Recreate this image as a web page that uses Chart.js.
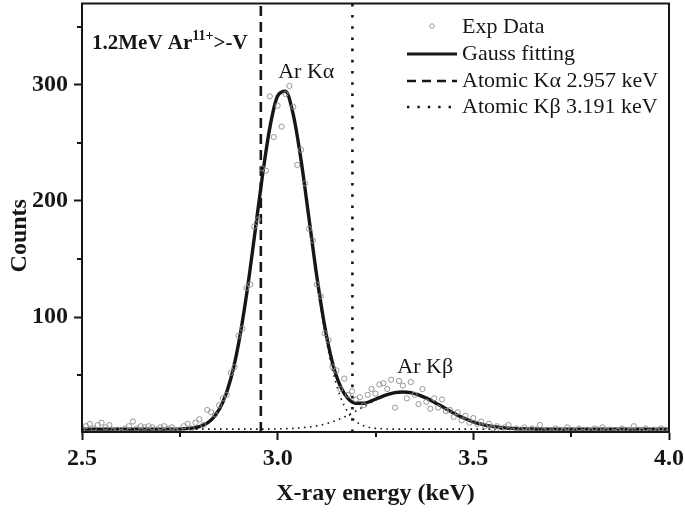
<!DOCTYPE html>
<html><head><meta charset="utf-8">
<script src="https://cdn.jsdelivr.net/npm/chart.js@4/dist/chart.umd.min.js"></script>
<style>html,body{margin:0;padding:0;background:#fff}canvas{display:block}</style>
</head><body>
<canvas id="c" width="685" height="514" style="width:685px;height:514px"></canvas>
<script>
// ---- data ----
const expEnergy = [
 2.50,2.51,2.52,2.53,2.54,2.55,2.56,2.57,2.58,2.59,
 2.60,2.61,2.62,2.63,2.64,2.65,2.66,2.67,2.68,2.69,
 2.70,2.71,2.72,2.73,2.74,2.75,2.76,2.77,2.78,2.79,
 2.80,2.81,2.82,2.83,2.84,2.85,2.86,2.87,2.88,2.89,
 2.90,2.91,2.92,2.93,2.94,2.95,2.96,2.97,2.98,2.99,
 3.00,3.01,3.02,3.03,3.04,3.05,3.06,3.07,3.08,3.09,
 3.10,3.11,3.12,3.13,3.14,3.15,3.16,3.17,3.18,3.19,
 3.20,3.21,3.22,3.23,3.24,3.25,3.26,3.27,3.28,3.29,
 3.30,3.31,3.32,3.33,3.34,3.35,3.36,3.37,3.38,3.39,
 3.40,3.41,3.42,3.43,3.44,3.45,3.46,3.47,3.48,3.49,
 3.50,3.51,3.52,3.53,3.54,3.55,3.56,3.57,3.58,3.59,
 3.60,3.61,3.62,3.63,3.64,3.65,3.66,3.67,3.68,3.69,
 3.70,3.71,3.72,3.73,3.74,3.75,3.76,3.77,3.78,3.79,
 3.80,3.81,3.82,3.83,3.84,3.85,3.86,3.87,3.88,3.89,
 3.90,3.91,3.92,3.93,3.94,3.95,3.96,3.97,3.98,3.99,
 4.00];
const expCounts = [
 3,6,8,4,7,9,5,7,2,3,
 1,4,6,10,4,6,5,6,5,3,
 5,6,4,5,2,3,6,8,4,9,
 12,7,20,18,16,24,30,33,52,57,
 84,90,125,128,178,184,228,226,290,255,
 282,264,292,299,281,231,244,215,176,166,
 128,118,86,80,57,54,38,47,33,36,
 29,31,24,33,38,34,42,43,38,46,
 22,45,41,30,44,33,25,38,27,21,
 30,22,29,19,20,14,18,11,15,9,
 13,8,10,6,8,4,6,3,5,7,
 2,4,3,5,2,4,3,7,2,3,
 1,4,3,2,5,3,2,4,1,3,
 2,4,3,5,2,3,1,2,4,3,
 2,6,3,2,4,1,3,2,4,3,
 2];
const fitEnergy = [
 2.50,2.52,2.54,2.56,2.58,2.60,2.62,2.64,2.66,2.68,
 2.70,2.72,2.74,2.76,2.78,2.80,2.82,2.84,2.86,2.88,
 2.90,2.92,2.94,2.96,2.98,3.00,3.02,3.04,3.06,3.08,
 3.10,3.12,3.14,3.16,3.18,3.20,3.22,3.24,3.26,3.28,
 3.30,3.32,3.34,3.36,3.38,3.40,3.42,3.44,3.46,3.48,
 3.50,3.52,3.54,3.56,3.58,3.60,3.62,3.64,3.66,3.68,
 3.70,3.72,3.74,3.76,3.78,3.80,3.82,3.84,3.86,3.88,
 3.90,3.92,3.94,3.96,3.98,4.00];
const fitTotal = [
 3.5,3.5,3.5,3.5,3.5,3.5,3.5,3.5,3.5,3.5,
 3.5,3.5,3.5,3.8,4.3,5.7,8.7,15.0,26.7,46.6,
 76.9,118.1,167.6,219.0,263.1,290.4,294.4,274.0,234.6,185.0,
 135.1,92.5,60.8,40.6,29.8,25.8,25.7,27.8,30.6,33.1,
 34.9,35.5,34.9,33.0,30.2,26.7,22.9,19.1,15.5,12.4,
 9.8,7.8,6.3,5.3,4.6,4.1,3.8,3.7,3.6,3.5,
 3.5,3.5,3.5,3.5,3.5,3.5,3.5,3.5,3.5,3.5,
 3.5,3.5,3.5,3.5,3.5,3.5];
const fitKalpha = [
 3.5,3.5,3.5,3.5,3.5,3.5,3.5,3.5,3.5,3.5,
 3.5,3.5,3.5,3.8,4.3,5.7,8.7,15.0,26.7,46.6,
 76.9,118.1,167.6,219.0,263.1,290.2,294.0,273.4,233.5,183.2,
 132.3,88.2,54.5,31.7,17.8,10.2,6.3,4.6,3.9,3.6,
 3.5,3.5,3.5,3.5,3.5,3.5,3.5,3.5,3.5,3.5,
 3.5,3.5,3.5,3.5,3.5,3.5,3.5,3.5,3.5,3.5,
 3.5,3.5,3.5,3.5,3.5,3.5,3.5,3.5,3.5,3.5,
 3.5,3.5,3.5,3.5,3.5,3.5];
const fitKbeta = [
 3.5,3.5,3.5,3.5,3.5,3.5,3.5,3.5,3.5,3.5,
 3.5,3.5,3.5,3.5,3.5,3.5,3.5,3.5,3.5,3.5,
 3.5,3.5,3.5,3.5,3.5,3.7,3.9,4.1,4.6,5.3,
 6.3,7.8,9.8,12.4,15.5,19.1,22.9,26.7,30.2,33.0,
 34.9,35.5,34.9,33.0,30.2,26.7,22.9,19.1,15.5,12.4,
 9.8,7.8,6.3,5.3,4.6,4.1,3.8,3.7,3.6,3.5,
 3.5,3.5,3.5,3.5,3.5,3.5,3.5,3.5,3.5,3.5,
 3.5,3.5,3.5,3.5,3.5,3.5];
const atomicKalpha = 2.957;
const atomicKbeta = 3.191;
const xRange = [2.5, 4.0];
const yRange = [1, 370];
const xTicks = [2.5, 3.0, 3.5, 4.0];
const xMinorTicks = [2.75, 3.25, 3.75];
const yTicks = [100, 200, 300];
const yMinorTicks = [50, 150, 250, 350];
const legendLabels = ['Exp Data', 'Gauss fitting', 'Atomic K\u03B1 2.957 keV', 'Atomic K\u03B2 3.191 keV'];
const peakLabels = ['Ar K\u03B1', 'Ar K\u03B2'];

// ---- chart ----
const INK = '#161616';
const SERIF = '"Liberation Serif", "Times New Roman", serif';
const pts = (xs, ys) => xs.map((x, i) => ({x: x, y: ys[i]}));

const frameAndMinor = {
  id: 'frameAndMinor',
  afterDraw(chart) {
    const {ctx, chartArea: a, scales: {x, y}} = chart;
    ctx.save();
    ctx.strokeStyle = INK;
    ctx.lineWidth = 2;
    ctx.setLineDash([]);
    ctx.strokeRect(a.left, a.top, a.right - a.left, a.bottom - a.top);
    xMinorTicks.forEach(v => {
      const px = Math.round(x.getPixelForValue(v));
      ctx.beginPath(); ctx.moveTo(px, a.bottom); ctx.lineTo(px, a.bottom + 5); ctx.stroke();
    });
    yMinorTicks.forEach(v => {
      const py = Math.round(y.getPixelForValue(v));
      ctx.beginPath(); ctx.moveTo(a.left, py); ctx.lineTo(a.left - 5, py); ctx.stroke();
    });
    ctx.restore();
  }
};

const textLayer = {
  id: 'textLayer',
  afterDraw(chart) {
    const {ctx, chartArea: a, scales: {x, y}} = chart;
    ctx.save();
    ctx.fillStyle = INK;
    ctx.textBaseline = 'alphabetic';
    // top-left label
    let tx = a.left + 10, tb = 49;
    ctx.textAlign = 'left';
    ctx.font = 'bold 21px ' + SERIF;
    ctx.fillText('1.2MeV Ar', tx, tb); tx += ctx.measureText('1.2MeV Ar').width;
    ctx.font = 'bold 14px ' + SERIF;
    ctx.fillText('11+', tx, tb - 9); tx += ctx.measureText('11+').width;
    ctx.font = 'bold 21px ' + SERIF;
    ctx.fillText('>-V', tx, tb);
    // peak labels
    ctx.font = '22px ' + SERIF;
    ctx.textAlign = 'center';
    ctx.fillText(peakLabels[0], x.getPixelForValue(3.073), y.getPixelForValue(306));
    ctx.fillText(peakLabels[1], x.getPixelForValue(3.377), y.getPixelForValue(52));
    // legend
    const lx0 = a.right - 262, lx1 = a.right - 212, txl = a.right - 207;
    const base = [33, 60, 87, 113];
    ctx.textAlign = 'left';
    ctx.font = '22px ' + SERIF;
    legendLabels.forEach((t, i) => ctx.fillText(t, txl, base[i]));
    ctx.strokeStyle = '#8c8c8c'; ctx.lineWidth = 0.9;
    ctx.beginPath(); ctx.arc((lx0 + lx1) / 2, base[0] - 7, 2.2, 0, Math.PI * 2); ctx.stroke();
    ctx.strokeStyle = INK;
    const seg = (yy, w, dash) => { ctx.lineWidth = w; ctx.setLineDash(dash); ctx.beginPath(); ctx.moveTo(lx0, yy); ctx.lineTo(lx1, yy); ctx.stroke(); };
    seg(base[1] - 6, 3.2, []);
    seg(base[2] - 6, 2.4, [9, 6]);
    seg(base[3] - 6, 2.4, [2.4, 8]);
    ctx.restore();
  }
};

new Chart(document.getElementById('c').getContext('2d'), {
  type: 'scatter',
  data: {
    datasets: [
      {label: 'Exp Data', data: pts(expEnergy, expCounts), showLine: false, pointRadius: 2.6, pointHoverRadius: 2.6,
       pointStyle: 'circle', borderColor: '#8c8c8c', backgroundColor: 'rgba(0,0,0,0)', borderWidth: 0.9},
      {label: 'K\u03B1 component', data: pts(fitEnergy, fitKalpha), showLine: true, pointRadius: 0, borderColor: INK,
       borderWidth: 1.6, borderDash: [1.6, 4.4], cubicInterpolationMode: 'monotone'},
      {label: 'K\u03B2 component', data: pts(fitEnergy, fitKbeta), showLine: true, pointRadius: 0, borderColor: INK,
       borderWidth: 1.6, borderDash: [1.6, 4.4], cubicInterpolationMode: 'monotone'},
      {label: 'Gauss fitting', data: pts(fitEnergy, fitTotal), showLine: true, pointRadius: 0, borderColor: INK,
       borderWidth: 3.4, cubicInterpolationMode: 'monotone'},
      {label: 'Atomic K\u03B1 2.957 keV', data: [{x: atomicKalpha, y: yRange[0]}, {x: atomicKalpha, y: yRange[1]}],
       showLine: true, pointRadius: 0, borderColor: INK, borderWidth: 2.6, borderDash: [10, 6]},
      {label: 'Atomic K\u03B2 3.191 keV', data: [{x: atomicKbeta, y: yRange[0]}, {x: atomicKbeta, y: yRange[1]}],
       showLine: true, pointRadius: 0, borderColor: INK, borderWidth: 2.6, borderDash: [2.6, 8.6]}
    ]
  },
  options: {
    responsive: false, animation: false, devicePixelRatio: 1,
    layout: {padding: {left: 0, right: 16, top: 1, bottom: 0}},
    plugins: {legend: {display: false}, tooltip: {enabled: false}},
    scales: {
      x: {
        type: 'linear', min: xRange[0], max: xRange[1],
        afterBuildTicks: s => { s.ticks = xTicks.map(v => ({value: v})); },
        afterFit: s => { s.height = 82; s.paddingLeft = 0; s.paddingRight = 0; },
        ticks: {font: {family: SERIF, size: 24, weight: 'bold'}, color: INK, padding: 4, maxRotation: 0, autoSkip: false,
                callback: v => Number(v).toFixed(1)},
        grid: {drawOnChartArea: false, drawTicks: true, tickLength: 8, tickWidth: 2, tickColor: INK},
        border: {display: true, width: 2, color: INK},
        title: {display: true, text: 'X-ray energy (keV)', font: {family: SERIF, size: 24, weight: 'bold'}, color: INK,
                padding: {top: 0, bottom: 5.6}}
      },
      y: {
        type: 'linear', min: yRange[0], max: yRange[1],
        afterBuildTicks: s => { s.ticks = yTicks.map(v => ({value: v})); },
        afterFit: s => { s.width = 82; s.paddingTop = 0; s.paddingBottom = 0; },
        ticks: {font: {family: SERIF, size: 24, weight: 'bold'}, color: INK, padding: 6, autoSkip: false,
                callback: v => String(v)},
        grid: {drawOnChartArea: false, drawTicks: true, tickLength: 8, tickWidth: 2, tickColor: INK},
        border: {display: true, width: 2, color: INK},
        title: {display: true, text: 'Counts      ', font: {family: SERIF, size: 24, weight: 'bold'}, color: INK,
                padding: {top: 5.6, bottom: 0}}
      }
    }
  },
  plugins: [frameAndMinor, textLayer]
});
</script>
</body></html>
